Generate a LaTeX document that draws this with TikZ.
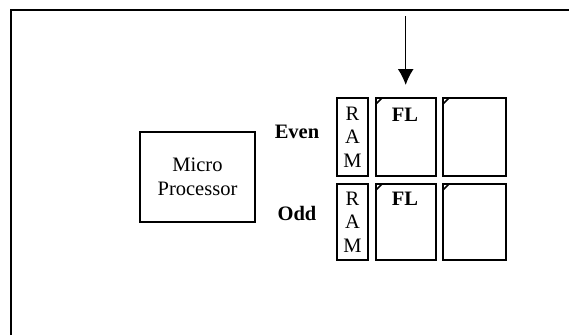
\documentclass[tikz,border=0pt]{standalone}
\usepackage{fontspec}
\setmainfont{Liberation Serif}
\usetikzlibrary{arrows.meta,calc}
\begin{document}
\begin{tikzpicture}[x=1pt,y=-1pt,
  box/.style={draw=black,line width=1.7pt,inner sep=0pt,outer sep=0pt},
  txt/.style={font=\fontsize{20.5}{23.5}\selectfont,inner sep=0pt},
  btxt/.style={font=\fontsize{20.5}{23.5}\selectfont\bfseries,inner sep=0pt},
  tick/.style={line width=1.7pt}]
\useasboundingbox (0,0) rectangle (569,335);
% frame (top and left edges visible)
\coordinate (fr1) at (11,335);
\coordinate (fr2) at (11,10);
\coordinate (fr3) at (569,10);
\draw[line width=1.9pt] (fr1) -- (fr2) -- (fr3);
% micro processor
\node[box,minimum width=115pt,minimum height=90pt,txt,align=center] (mp) at (197.5,177) {Micro\\Processor};
% even row
\node[box,minimum width=31pt,minimum height=78pt] (rame) at (352.5,137) {};
\node[box,minimum width=60pt,minimum height=78pt] (fle) at (406,137) {};
\node[box,minimum width=63pt,minimum height=78pt] (ee) at (474.5,137) {};
% odd row
\node[box,minimum width=31pt,minimum height=76pt] (ramo) at (352.5,222) {};
\node[box,minimum width=60pt,minimum height=76pt] (flo) at (406,222) {};
\node[box,minimum width=63pt,minimum height=76pt] (eo) at (474.5,222) {};
% RAM letters
\node[txt,align=center] (rametxt) at (rame) {R\\A\\M};
\node[txt,align=center] (ramotxt) at (ramo) {R\\A\\M};
% FL labels
\node[btxt] (fletxt) at (405,115) {FL};
\node[btxt] (flotxt) at (405,199) {FL};
% row labels
\node[btxt] (even) at (297,132) {Even};
\node[btxt] (odd) at (297,213) {Odd};
% corner ticks
\foreach \n in {fle,ee,flo,eo}{
  \draw[tick] ($(\n.north west)+(0,6)$) -- ($(\n.north west)+(6,0)$);
}
% arrow
\coordinate (atop) at (405.7,16);
\draw[line width=1.5pt,-{Latex[length=16pt,width=16pt]}] (atop) -- ($(fle.north)+(-0.3,-13)$);
\end{tikzpicture}
\end{document}
